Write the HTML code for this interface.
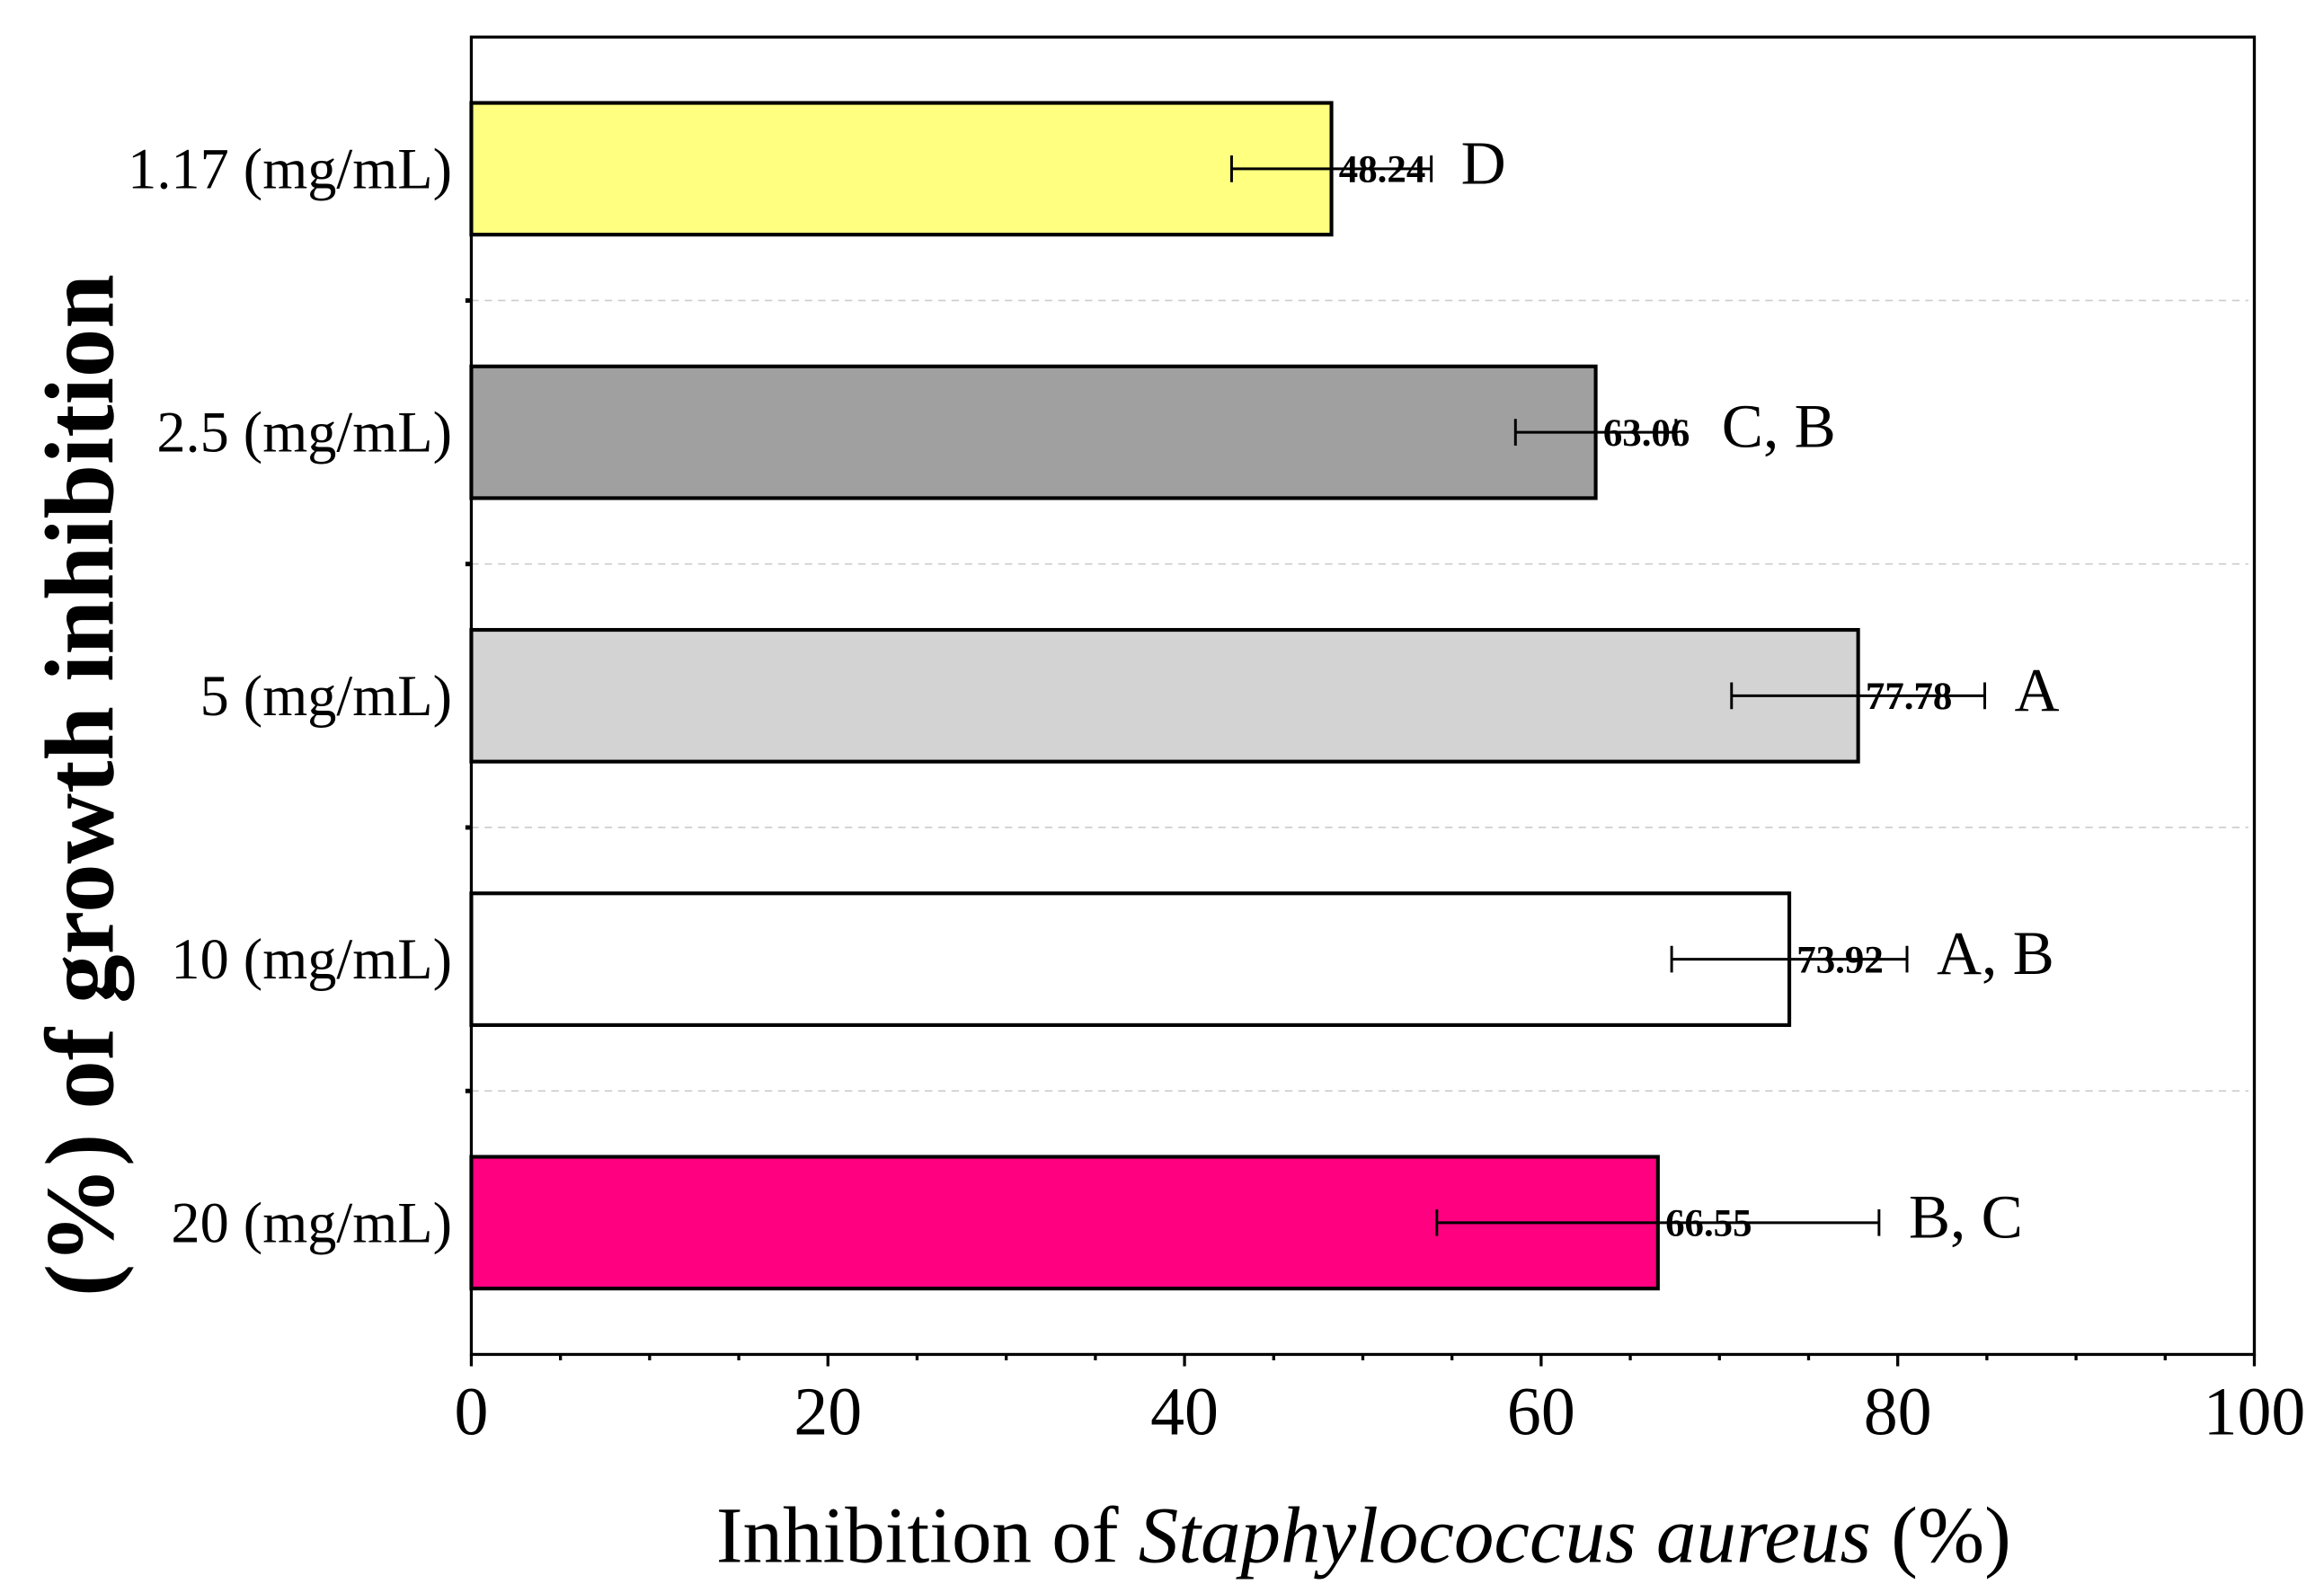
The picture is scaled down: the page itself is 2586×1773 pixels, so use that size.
<!DOCTYPE html>
<html><head><meta charset="utf-8"><style>
html,body{margin:0;padding:0;background:#fff;}
svg{display:block;}
text{font-family:"Liberation Serif",serif;fill:#000;}
</style></head><body>
<svg id="chart" width="2586" height="1773" viewBox="0 0 1568 1075" preserveAspectRatio="none" xmlns="http://www.w3.org/2000/svg">
<rect x="0" y="0" width="1568" height="1075" fill="#fff"/>
<g id="grid"></g><g id="bars"></g><g id="axes"></g>
<text x="920" y="1054" font-size="54" text-anchor="middle">Inhibition of <tspan font-style="italic">Staphylococcus aureus</tspan>  (%)</text>
<text transform="translate(76,530) rotate(-90)" font-size="66" font-weight="bold" text-anchor="middle">(%) of growth inhibition</text>
</svg>
<script>
const categories = ["1.17 (mg/mL)", "2.5 (mg/mL)", "5 (mg/mL)", "10 (mg/mL)", "20 (mg/mL)"];
const values = [48.24, 63.06, 77.78, 73.92, 66.55];
const errors = [5.6, 4.5, 7.1, 6.6, 12.4];
const valueLabels = ["48.24", "63.06", "77.78", "73.92", "66.55"];
const groupLetters = ["D", "C, B", "A", "A, B", "B, C"];
const colors = ["#ffff80", "#a0a0a0", "#d3d3d3", "#ffffff", "#ff0080"];
const xTicks = [0, 20, 40, 60, 80, 100];

const NS = "http://www.w3.org/2000/svg";
const L = 318, R = 1521, T = 25, B = 914;
const xMax = 100;
const xs = v => L + (R - L) * v / xMax;
const band = (B - T) / categories.length;
const yc = i => T + band * (i + 0.5);
function mk(tag, attrs, parent) {
  const e = document.createElementNS(NS, tag);
  for (const k in attrs) e.setAttribute(k, attrs[k]);
  parent.appendChild(e);
  return e;
}
const grid = document.getElementById('grid');
const bars = document.getElementById('bars');
const axes = document.getElementById('axes');

for (let i = 1; i < categories.length; i++) {
  const y = T + band * i;
  const g = mk('line', {x1: L, x2: R - 4, y1: y, y2: y, stroke: '#ccc', 'stroke-width': 1, 'stroke-dasharray': '5,4'}, grid);
  
  
  const t = mk('line', {x1: L - 4, x2: L, y1: y, y2: y, stroke: '#000', 'stroke-width': 3}, axes);
  
  
}

categories.forEach((c, i) => {
  const h = band * 0.5, y = yc(i);
  const r = mk('rect', {x: L, y: y - h / 2, width: xs(values[i]) - L, height: h, fill: colors[i], stroke: '#000', 'stroke-width': 2.5}, bars);
  
  
  const x1 = xs(values[i] - errors[i]), x2 = xs(values[i] + errors[i]);
  const eb = mk('path', {d: `M${x1},${y}H${x2}M${x1},${y - 9}V${y + 9}M${x2},${y - 9}V${y + 9}`, stroke: '#000', 'stroke-width': 1.8, fill: 'none'}, bars);
  
  
  const vl = mk('text', {x: xs(values[i]) + 5, y: y + 9, 'font-size': 26, 'font-weight': 'bold'}, bars);
  vl.textContent = valueLabels[i];
  
  
  const gl = mk('text', {x: Math.max(x2 + 20, xs(values[i]) + 85), y: y + 10, 'font-size': 42}, bars);
  gl.textContent = groupLetters[i];
  
  
  const cl = mk('text', {x: 305, y: y + 13, 'font-size': 39, 'text-anchor': 'end'}, axes);
  cl.textContent = c;
  
  
});

const frame = mk('rect', {x: L, y: T, width: R - L, height: B - T, fill: 'none', stroke: '#000', 'stroke-width': 2}, axes);



for (let v = 0; v <= xMax; v += 5) {
  const major = v % 20 === 0;
  const tk = mk('line', {x1: xs(v), x2: xs(v), y1: B, y2: B + (major ? 8 : 4), stroke: '#000', 'stroke-width': 2}, axes);
  
  
}
xTicks.forEach(v => {
  const t = mk('text', {x: xs(v), y: 968, 'font-size': 46, 'text-anchor': 'middle'}, axes);
  t.textContent = v;
  
  
});
</script>
</body></html>
